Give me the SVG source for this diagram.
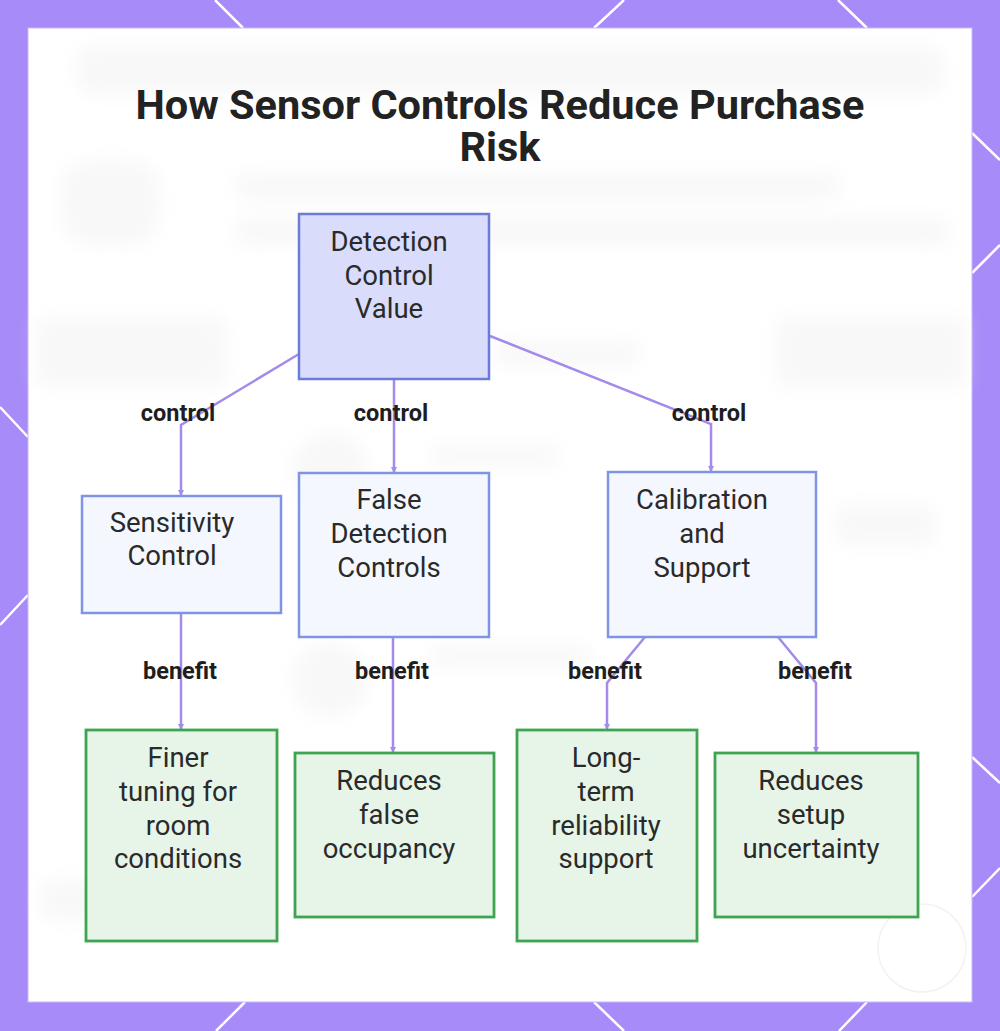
<svg xmlns="http://www.w3.org/2000/svg" width="1000" height="1031" viewBox="0 0 1000 1031">
<defs>
<style>
.title{font-family:Roboto,"Liberation Sans",sans-serif;font-weight:700;font-size:41.5px;fill:#222;text-anchor:middle}
.nt{font-family:Roboto,"Liberation Sans",sans-serif;font-size:27.5px;fill:#2a2a2a;text-anchor:middle}
.lbl{font-family:Roboto,"Liberation Sans",sans-serif;font-weight:700;font-size:23.5px;fill:#1e1e1e;text-anchor:middle}
.root{fill:#d9dcfb;stroke:#6c7bd6;stroke-width:2.5}
.mid{fill:#f5f7fe;stroke:#7f95e4;stroke-width:2.5}
.leaf{fill:#e7f5e9;stroke:#3fa452;stroke-width:2.8}
.edge{fill:none;stroke:#a48bea;stroke-width:2.5}
.deco{stroke:#ffffff;stroke-width:2.5}
.bg{fill:#eeeeee}
</style>
<filter id="blur" x="-30%" y="-50%" width="160%" height="200%"><feGaussianBlur stdDeviation="9"/></filter>
<marker id="arr" markerUnits="userSpaceOnUse" markerWidth="8" markerHeight="8" refX="6" refY="4" orient="auto"><path d="M0,1 L6,4 L0,7 z" fill="#a48bea"/></marker>
</defs>

<!-- frame -->
<rect x="0" y="0" width="1000" height="1031" fill="#a78bf8"/>
<g class="deco">
<line x1="215" y1="0" x2="243" y2="28"/>
<line x1="624" y1="0" x2="594" y2="28"/>
<line x1="838" y1="0" x2="867" y2="28"/>
<line x1="972" y1="133" x2="1000" y2="160"/>
<line x1="972" y1="273" x2="1000" y2="245"/>
<line x1="972" y1="757" x2="1000" y2="783"/>
<line x1="972" y1="897" x2="1000" y2="868"/>
<line x1="0" y1="407" x2="28" y2="437"/>
<line x1="28" y1="595" x2="0" y2="625"/>
<line x1="245" y1="1002" x2="216" y2="1031"/>
<line x1="594" y1="1002" x2="624" y2="1031"/>
<line x1="867" y1="1002" x2="839" y2="1031"/>
</g>
<rect x="28" y="28" width="944" height="974" fill="#ffffff" stroke="#c9b8fb" stroke-width="1"/>

<!-- faint blurred backdrop -->
<g filter="url(#blur)" opacity="0.4">
<rect class="bg" x="75" y="45" width="870" height="50" rx="20"/>
<rect class="bg" x="60" y="160" width="100" height="85" rx="30"/>
<rect class="bg" x="235" y="172" width="605" height="28" rx="12"/>
<rect class="bg" x="235" y="217" width="715" height="28" rx="12"/>
<rect class="bg" x="36" y="318" width="190" height="68"/>
<rect class="bg" x="776" y="318" width="190" height="68"/>
<rect class="bg" x="495" y="340" width="145" height="26" rx="10"/>
<circle class="bg" cx="330" cy="470" r="38"/>
<circle class="bg" cx="330" cy="680" r="38"/>
<rect class="bg" x="430" y="445" width="130" height="22" rx="10"/>
<rect class="bg" x="430" y="645" width="160" height="22" rx="10"/>
<rect class="bg" x="835" y="505" width="100" height="40" rx="10"/>
<rect class="bg" x="40" y="880" width="60" height="40" rx="10"/>
</g>
<circle cx="922" cy="948" r="44" fill="none" stroke="#f3f3f3" stroke-width="1.5"/>

<!-- title -->
<text class="title" x="500" y="119">How Sensor Controls Reduce Purchase</text>
<text class="title" x="500" y="161">Risk</text>

<!-- connectors -->
<g id="connectors">
<polyline class="edge" points="299,354 181,425 181,496" marker-end="url(#arr)"/>
<polyline class="edge" points="394,379 394,473" marker-end="url(#arr)"/>
<polyline class="edge" points="490,336 711,424 711,472" marker-end="url(#arr)"/>
<polyline class="edge" points="181,613 181,730" marker-end="url(#arr)"/>
<polyline class="edge" points="393,637 393,753" marker-end="url(#arr)"/>
<polyline class="edge" points="645,637 607,683 607,730" marker-end="url(#arr)"/>
<polyline class="edge" points="778,637 816,683 816,753" marker-end="url(#arr)"/>
<text class="lbl" x="178" y="421">control</text>
<text class="lbl" x="391" y="421">control</text>
<text class="lbl" x="709" y="421">control</text>
<text class="lbl" x="180" y="679">benefit</text>
<text class="lbl" x="392" y="679">benefit</text>
<text class="lbl" x="605" y="679">benefit</text>
<text class="lbl" x="815" y="679">benefit</text>
</g>

<!-- nodes -->
<g id="root">
<rect class="root" x="299" y="214" width="190" height="165"/>
<text class="nt" x="389" y="251">Detection</text>
<text class="nt" x="389" y="285">Control</text>
<text class="nt" x="389" y="318">Value</text>
</g>
<g id="sensitivity">
<rect class="mid" x="82" y="496" width="199" height="117"/>
<text class="nt" x="172" y="532">Sensitivity</text>
<text class="nt" x="172" y="565">Control</text>
</g>
<g id="falsedetection">
<rect class="mid" x="299" y="473" width="190" height="164"/>
<text class="nt" x="389" y="509">False</text>
<text class="nt" x="389" y="543">Detection</text>
<text class="nt" x="389" y="577">Controls</text>
</g>
<g id="calibration">
<rect class="mid" x="608" y="472" width="208" height="165"/>
<text class="nt" x="702" y="509">Calibration</text>
<text class="nt" x="702" y="543">and</text>
<text class="nt" x="702" y="577">Support</text>
</g>
<g id="finer">
<rect class="leaf" x="86" y="730" width="191" height="211"/>
<text class="nt" x="178" y="767">Finer</text>
<text class="nt" x="178" y="801">tuning for</text>
<text class="nt" x="178" y="835">room</text>
<text class="nt" x="178" y="868">conditions</text>
</g>
<g id="reducesfalse">
<rect class="leaf" x="295" y="753" width="199" height="164"/>
<text class="nt" x="389" y="790">Reduces</text>
<text class="nt" x="389" y="824">false</text>
<text class="nt" x="389" y="858">occupancy</text>
</g>
<g id="longterm">
<rect class="leaf" x="517" y="730" width="180" height="211"/>
<text class="nt" x="606" y="767">Long-</text>
<text class="nt" x="606" y="801">term</text>
<text class="nt" x="606" y="835">reliability</text>
<text class="nt" x="606" y="868">support</text>
</g>
<g id="reducessetup">
<rect class="leaf" x="715" y="753" width="203" height="164"/>
<text class="nt" x="811" y="790">Reduces</text>
<text class="nt" x="811" y="824">setup</text>
<text class="nt" x="811" y="858">uncertainty</text>
</g>
</svg>
